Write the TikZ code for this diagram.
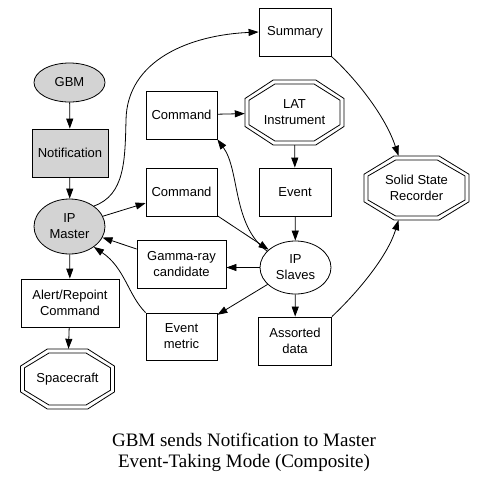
\documentclass[tikz,border=0pt]{standalone}
\usepackage{fontspec}
\setmainfont{Liberation Sans}
\newfontfamily\titlefont{Liberation Serif}
\usetikzlibrary{arrows.meta,shapes.geometric,calc}
\definecolor{gvgray}{HTML}{D3D3D3}
\newcommand\octo[4]{%
  \draw[line width=0.8pt] ({#1-0.43*#3},{#2-#4}) -- ({#1+0.43*#3},{#2-#4}) -- ({#1+#3},{#2-0.43*#4}) -- ({#1+#3},{#2+0.43*#4}) -- ({#1+0.43*#3},{#2+#4}) -- ({#1-0.43*#3},{#2+#4}) -- ({#1-#3},{#2+0.43*#4}) -- ({#1-#3},{#2-0.43*#4}) -- cycle;}
\begin{document}
\begin{tikzpicture}[x=1pt,y=-1pt,
  every node/.style={font=\fontsize{13}{16}\selectfont, align=center, inner sep=0pt},
  box/.style={draw, line width=0.8pt, rectangle, minimum width=#1, minimum height=48},
  oval/.style={draw, line width=0.8pt, ellipse, fill=gvgray, minimum width=71, minimum height=#1},
  octnode/.style={rectangle, minimum width=#1},
  arr/.style={draw, line width=0.8pt, -{Triangle[length=10pt,width=7pt]}}]
\useasboundingbox[fill=white] (0,0) rectangle (487,488);
% left column
\node[oval=39] (gbm) at (69.5,82.5) {GBM};
\node[box=76, fill=gvgray] (notif) at (70,153) {Notification};
\node[oval=55] (master) at (69.5,226.5) {IP\\Master};
\node[box=98] (alert) at (70,303) {Alert/Repoint\\Command};
\node[octnode=94, minimum height=60] (space) at (67.5,379) {Spacecraft};
\octo{67.5}{379}{47}{30}
\octo{67.5}{379}{43}{26}
% middle column
\node[box=71] (cmd1) at (181.5,115) {Command};
\node[box=71] (cmd2) at (181.5,192) {Command};
\node[box=89] (gamma) at (181.5,264) {Gamma-ray\\candidate};
\node[box=71, minimum height=47] (emetric) at (181.5,336.5) {Event\\metric};
% right-middle column
\node[box=72] (summary) at (295,32) {Summary};
\node[octnode=99, minimum height=65] (lat) at (294.5,112.5) {LAT\\Instrument};
\octo{294.5}{112.5}{49.5}{32.5}
\octo{294.5}{112.5}{45.5}{28.5}
\node[box=72] (event) at (295,192) {Event};
\node[draw, line width=0.8pt, ellipse, minimum width=71, minimum height=53] (slaves) at (295.5,267.5) {IP\\Slaves};
\node[box=73] (assorted) at (295,341) {Assorted\\data};
% right
\node[octnode=105, minimum height=64] (ssr) at (416.5,188) {Solid State\\Recorder};
\octo{416.5}{188}{52.5}{32}
\octo{416.5}{188}{48.5}{28}
% title
\node[font=\titlefont\fontsize{19}{21}\selectfont] (title) at (244,452) {GBM sends Notification to Master\\Event-Taking Mode (Composite)};
% edges
\path[arr] (gbm) -- (notif);
\path[arr] (notif) -- (master);
\path[arr] (master) -- (alert);
\path[arr] (alert) -- (space);
\path[arr] (master.40) .. controls (125,195) and (125,160) .. (126,120) .. controls (127,60) and (190,35) .. (summary.west);
\path[arr] (master) -- (cmd2);
\path[arr] (gamma) -- (master);
\path[arr] (emetric.north west) .. controls (128,295) and (125,268) .. (master.-40);
\path[arr] (slaves.west) -- (gamma.east |- slaves.west);
\path[arr] (slaves) -- (emetric);
\path[arr] (slaves.150) .. controls (232,225) and (240,170) .. (cmd1.south east);
\path[arr] (cmd2) -- (slaves);
\path[arr] (cmd1) -- (lat);
\path[arr] (lat) -- (event);
\path[arr] (event) -- (slaves);
\path[arr] (slaves) -- (assorted);
\path[arr] (summary.south east) .. controls (355,78) and (385,115) .. ([xshift=-18pt]ssr.north);
\path[arr] (assorted.north east) .. controls (360,290) and (388,255) .. ([xshift=-18pt]ssr.south);
\end{tikzpicture}
\end{document}
